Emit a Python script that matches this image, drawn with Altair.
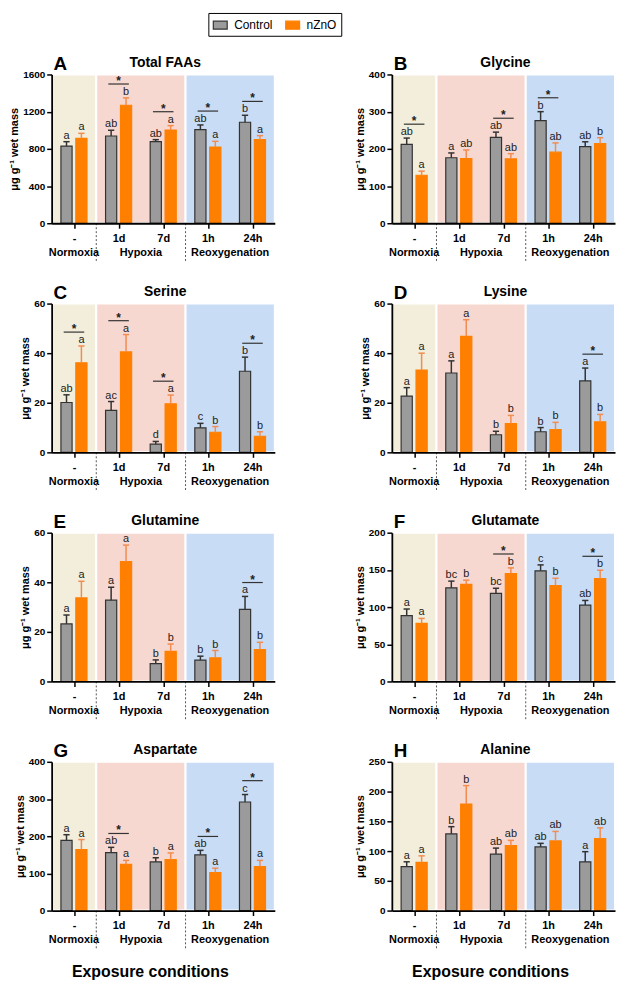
import altair as alt
import pandas as pd

# ---------------- data ----------------
conditions = ["-", "1d", "7d", "1h", "24h"]
groups = ["Normoxia", "Hypoxia", "Reoxygenation"]
group_sizes = [1, 2, 2]
series = ["Control", "nZnO"]

panel_letters = ["A", "B", "C", "D", "E", "F", "G", "H"]
panel_titles = ["Total FAAs", "Glycine", "Serine", "Lysine",
                "Glutamine", "Glutamate", "Aspartate", "Alanine"]
y_max = [1600, 400, 60, 60, 60, 200, 400, 250]
y_step = [400, 100, 20, 20, 20, 50, 100, 50]

# A - Total FAAs
faa_ctrl = [830, 938, 877, 1007, 1086]
faa_ctrl_err = [47, 62, 22, 50, 75]
faa_nzno = [913, 1269, 1003, 820, 899]
faa_nzno_err = [54, 79, 47, 61, 43]
faa_ctrl_lab = ["a", "ab", "ab", "ab", "b"]
faa_nzno_lab = ["a", "b", "a", "a", "a"]
faa_sig = [0, 1, 1, 1, 1]

# B - Glycine
gly_ctrl = [212, 176, 231, 276, 206]
gly_ctrl_err = [17, 13, 14, 24, 13]
gly_nzno = [129, 174, 173, 191, 214]
gly_nzno_err = [11, 23, 14, 25, 16]
gly_ctrl_lab = ["ab", "a", "ab", "b", "ab"]
gly_nzno_lab = ["a", "ab", "ab", "ab", "b"]
gly_sig = [1, 0, 1, 1, 0]

# C - Serine
ser_ctrl = [20.1, 16.9, 3.3, 9.9, 32.7]
ser_ctrl_err = [3.1, 3.6, 1.1, 1.8, 5.7]
ser_nzno = [36.1, 40.5, 19.6, 8.1, 6.5]
ser_nzno_err = [6.8, 7.0, 3.5, 2.3, 1.8]
ser_ctrl_lab = ["ab", "ac", "d", "c", "b"]
ser_nzno_lab = ["a", "a", "a", "b", "b"]
ser_sig = [1, 1, 1, 0, 1]

# D - Lysine
lys_ctrl = [22.7, 32.0, 7.1, 8.3, 28.8]
lys_ctrl_err = [3.4, 4.9, 1.4, 1.7, 5.2]
lys_nzno = [33.2, 46.8, 11.6, 9.2, 12.3]
lys_nzno_err = [6.8, 6.7, 3.3, 2.9, 3.0]
lys_ctrl_lab = ["a", "a", "b", "b", "a"]
lys_nzno_lab = ["a", "a", "b", "b", "b"]
lys_sig = [0, 0, 0, 0, 1]

# E - Glutamine
gln_ctrl = [23.2, 32.8, 7.2, 8.6, 29.1]
gln_ctrl_err = [3.6, 5.2, 1.5, 1.6, 5.2]
gln_nzno = [33.7, 48.3, 12.1, 9.5, 12.9]
gln_nzno_err = [6.7, 6.7, 3.0, 3.0, 2.9]
gln_ctrl_lab = ["a", "a", "b", "b", "a"]
gln_nzno_lab = ["a", "a", "b", "b", "b"]
gln_sig = [0, 0, 0, 0, 1]

# F - Glutamate
glu_ctrl = [88.4, 125.9, 118.3, 148.7, 102.7]
glu_ctrl_err = [9, 9, 7, 8, 6.2]
glu_nzno = [78.1, 130.4, 145.1, 129.0, 138.4]
glu_nzno_err = [6.7, 5.8, 7.6, 9.8, 11.2]
glu_ctrl_lab = ["a", "bc", "bc", "c", "ab"]
glu_nzno_lab = ["a", "b", "b", "b", "b"]
glu_sig = [0, 0, 1, 0, 1]

# G - Aspartate
asp_ctrl = [189, 156, 131, 150, 292]
asp_ctrl_err = [15, 14, 11, 12, 20]
asp_nzno = [164, 124, 137, 102, 118]
asp_nzno_err = [27, 11, 18, 12, 17]
asp_ctrl_lab = ["a", "ab", "b", "ab", "c"]
asp_nzno_lab = ["a", "a", "a", "a", "a"]
asp_sig = [0, 1, 0, 1, 1]

# H - Alanine
ala_ctrl = [74, 129, 95, 107, 82]
ala_ctrl_err = [8, 12, 10, 6, 17]
ala_nzno = [81, 179, 109, 117, 121]
ala_nzno_err = [11, 31, 9, 16, 18]
ala_ctrl_lab = ["a", "b", "ab", "ab", "a"]
ala_nzno_lab = ["a", "b", "ab", "ab", "ab"]
ala_sig = [0, 0, 0, 0, 0]

panel_data = [
    (faa_ctrl, faa_ctrl_err, faa_nzno, faa_nzno_err, faa_ctrl_lab, faa_nzno_lab, faa_sig),
    (gly_ctrl, gly_ctrl_err, gly_nzno, gly_nzno_err, gly_ctrl_lab, gly_nzno_lab, gly_sig),
    (ser_ctrl, ser_ctrl_err, ser_nzno, ser_nzno_err, ser_ctrl_lab, ser_nzno_lab, ser_sig),
    (lys_ctrl, lys_ctrl_err, lys_nzno, lys_nzno_err, lys_ctrl_lab, lys_nzno_lab, lys_sig),
    (gln_ctrl, gln_ctrl_err, gln_nzno, gln_nzno_err, gln_ctrl_lab, gln_nzno_lab, gln_sig),
    (glu_ctrl, glu_ctrl_err, glu_nzno, glu_nzno_err, glu_ctrl_lab, glu_nzno_lab, glu_sig),
    (asp_ctrl, asp_ctrl_err, asp_nzno, asp_nzno_err, asp_ctrl_lab, asp_nzno_lab, asp_sig),
    (ala_ctrl, ala_ctrl_err, ala_nzno, ala_nzno_err, ala_ctrl_lab, ala_nzno_lab, ala_sig),
]

# ---------------- style ----------------
GRAY = "#9b9b9b"
ORANGE = "#ff7f00"
DARK = "#333333"
ERR_ORANGE = "#f28c50"
BG = ["#f2eedb", "#f7d8d1", "#c9dcf5"]
W, H = 225, 150
FONT = "Liberation Sans"
NC = len(conditions)
Y_TITLE = "μg g⁻¹ wet mass"

g_start, acc = [], 0
for s in group_sizes:
    g_start.append(acc)
    acc += s
gdf = pd.DataFrame({
    "group": groups,
    "start": g_start,
    "end": [a + s for a, s in zip(g_start, group_sizes)],
})
gdf["mid"] = (gdf["start"] + gdf["end"]) / 2
bdf = pd.DataFrame({"b": g_start[1:]})

label_js = "[" + ",".join("'%s'" % c for c in conditions) + "]"

legend = alt.Legend(
    title=None, orient="none", legendX=158, legendY=-62, direction="horizontal",
    symbolType="M-1,-0.57H1V0.57H-1Z", symbolSize=196, symbolStrokeWidth=1.2,
    labelFontSize=12, labelFont=FONT, labelColor="black",
    strokeColor="black", fillColor="white", padding=4, columnPadding=10, labelOffset=6,
)

err_color = alt.when(alt.datum.series == "Control").then(alt.value(DARK)).otherwise(alt.value(ERR_ORANGE))


def make_panel(k, bottom):
    ctrl, ctrl_err, nz, nz_err, cl, nl, sig = panel_data[k]
    rows = []
    for ci in range(NC):
        rows.append(dict(ci=ci, series="Control", mean=ctrl[ci], err=ctrl_err[ci], lab=cl[ci]))
        rows.append(dict(ci=ci, series="nZnO", mean=nz[ci], err=nz_err[ci], lab=nl[ci]))
    df = pd.DataFrame(rows)

    xscale = alt.Scale(domain=[0, NC], nice=False, zero=False)
    yscale = alt.Scale(domain=[0, y_max[k]], nice=False)

    xaxis_kw = dict(
        values=[i + 0.5 for i in range(NC)],
        labelExpr=label_js + "[floor(datum.value)]",
        labelFontSize=11, labelFontWeight="bold", labelColor="black",
        labelPadding=4, tickSize=5, tickWidth=1.5, tickColor="black",
        domainColor="black", domainWidth=1.8, grid=False, zindex=1,
    )
    if bottom:
        xaxis_kw.update(titleX=99, titleY=61, titleFontSize=16, titleFontWeight="bold",
                        titleAlign="center", titleBaseline="middle", titleColor="black")
    xaxis = alt.Axis(**xaxis_kw)
    xtitle = "Exposure conditions" if bottom else None

    yaxis = alt.Axis(
        values=list(range(0, y_max[k] + 1, y_step[k])), format="d",
        labelFontSize=10, labelFontWeight="bold", labelColor="black", labelPadding=2,
        tickSize=5, tickWidth=1.5, tickColor="black",
        domainColor="black", domainWidth=1.8, grid=False, zindex=1,
        titleFontSize=11, titleFontWeight="bold", titleColor="black", titlePadding=3,
    )

    def X(field):
        return alt.X(field, type="quantitative", scale=xscale, axis=xaxis, title=xtitle)

    def Y(field):
        return alt.Y(field, type="quantitative", scale=yscale, axis=yaxis, title=Y_TITLE)

    bg = alt.Chart(gdf).mark_rect(stroke="white", strokeWidth=2).encode(
        x=X("start"), x2="end:Q",
        y=alt.value(0), y2=alt.value(H),
        fill=alt.Fill("group:N", scale=alt.Scale(domain=groups, range=BG), legend=None),
    )

    seps = alt.Chart(bdf).mark_rule(strokeDash=[2, 2], color="#555555", strokeWidth=1).encode(
        x=X("b"), y=alt.value(H), y2=alt.value(H + 38)
    )

    base = alt.Chart(df).transform_calculate(
        xc="datum.ci + 0.5 + (datum.series === 'Control' ? -0.167 : 0.167)",
    ).transform_calculate(
        xl="datum.xc - 0.125", xr="datum.xc + 0.125",
        capl="datum.xc - 0.07", capr="datum.xc + 0.07",
        top="datum.mean + datum.err", zero="0",
    )

    bars = base.mark_rect(strokeWidth=1.2).encode(
        x=X("xl"), x2="xr:Q",
        y=Y("mean"), y2="zero:Q",
        color=alt.Color("series:N", scale=alt.Scale(domain=series, range=[GRAY, ORANGE]), legend=legend),
        stroke=alt.Stroke("series:N", scale=alt.Scale(domain=series, range=[DARK, ORANGE]), legend=legend),
    )

    errs = base.mark_rule(strokeWidth=1.5).encode(
        x=X("xc"), y=Y("mean"), y2="top:Q", color=err_color
    )
    caps = base.mark_rule(strokeWidth=1.5).encode(
        x=X("capl"), x2="capr:Q", y=Y("top"), color=err_color
    )
    labels = base.mark_text(baseline="alphabetic", dy=-3, fontSize=11, color="#222222").encode(
        x=X("xc"), y=Y("top"), text="lab:N"
    )

    layers = [bg, seps, bars, errs, caps, labels]

    sig_rows = [dict(ci=ci, top=max(ctrl[ci] + ctrl_err[ci], nz[ci] + nz_err[ci]))
                for ci in range(NC) if sig[ci]]
    if sig_rows:
        sbase = alt.Chart(pd.DataFrame(sig_rows)).transform_calculate(
            sl="datum.ci + 0.5 - 0.23", sr="datum.ci + 0.5 + 0.23", c="datum.ci + 0.5"
        )
        sline = sbase.mark_rule(yOffset=-14, strokeWidth=1.2, color=DARK).encode(
            x=X("sl"), x2="sr:Q", y=Y("top")
        )
        star = sbase.mark_text(text="*", dy=-13, baseline="alphabetic", fontSize=12,
                               fontWeight="bold", color="#222222").encode(
            x=X("c"), y=Y("top")
        )
        layers += [sline, star]

    gtext = alt.Chart(gdf).mark_text(fontSize=11, fontWeight="bold", baseline="middle",
                                     color="black").encode(
        x=X("mid"), y=alt.value(H + 30), text="group:N"
    )
    head = alt.Chart(pd.DataFrame({"t": [panel_letters[k]], "title": [panel_titles[k]]}))
    letter = head.mark_text(
        align="left", baseline="alphabetic", fontSize=19, fontWeight="bold", color="black"
    ).encode(x=alt.value(2), y=alt.value(-5), text="t:N")
    title = head.mark_text(
        align="center", baseline="alphabetic", fontSize=14, fontWeight="bold", color="black"
    ).encode(x=alt.value(W / 2 + 2), y=alt.value(-8), text="title:N")
    layers += [gtext, letter, title]

    return alt.layer(*layers).properties(width=W, height=H)


panels = [make_panel(k, bottom=(k >= 6)) for k in range(8)]

chart = alt.concat(
    *panels, columns=2, spacing={"row": 81, "column": 118}, bounds="flush"
).properties(padding=0).configure(font=FONT).configure_view(strokeWidth=0)

chart.save("out.html", embed_options={"renderer": "svg", "actions": False})
